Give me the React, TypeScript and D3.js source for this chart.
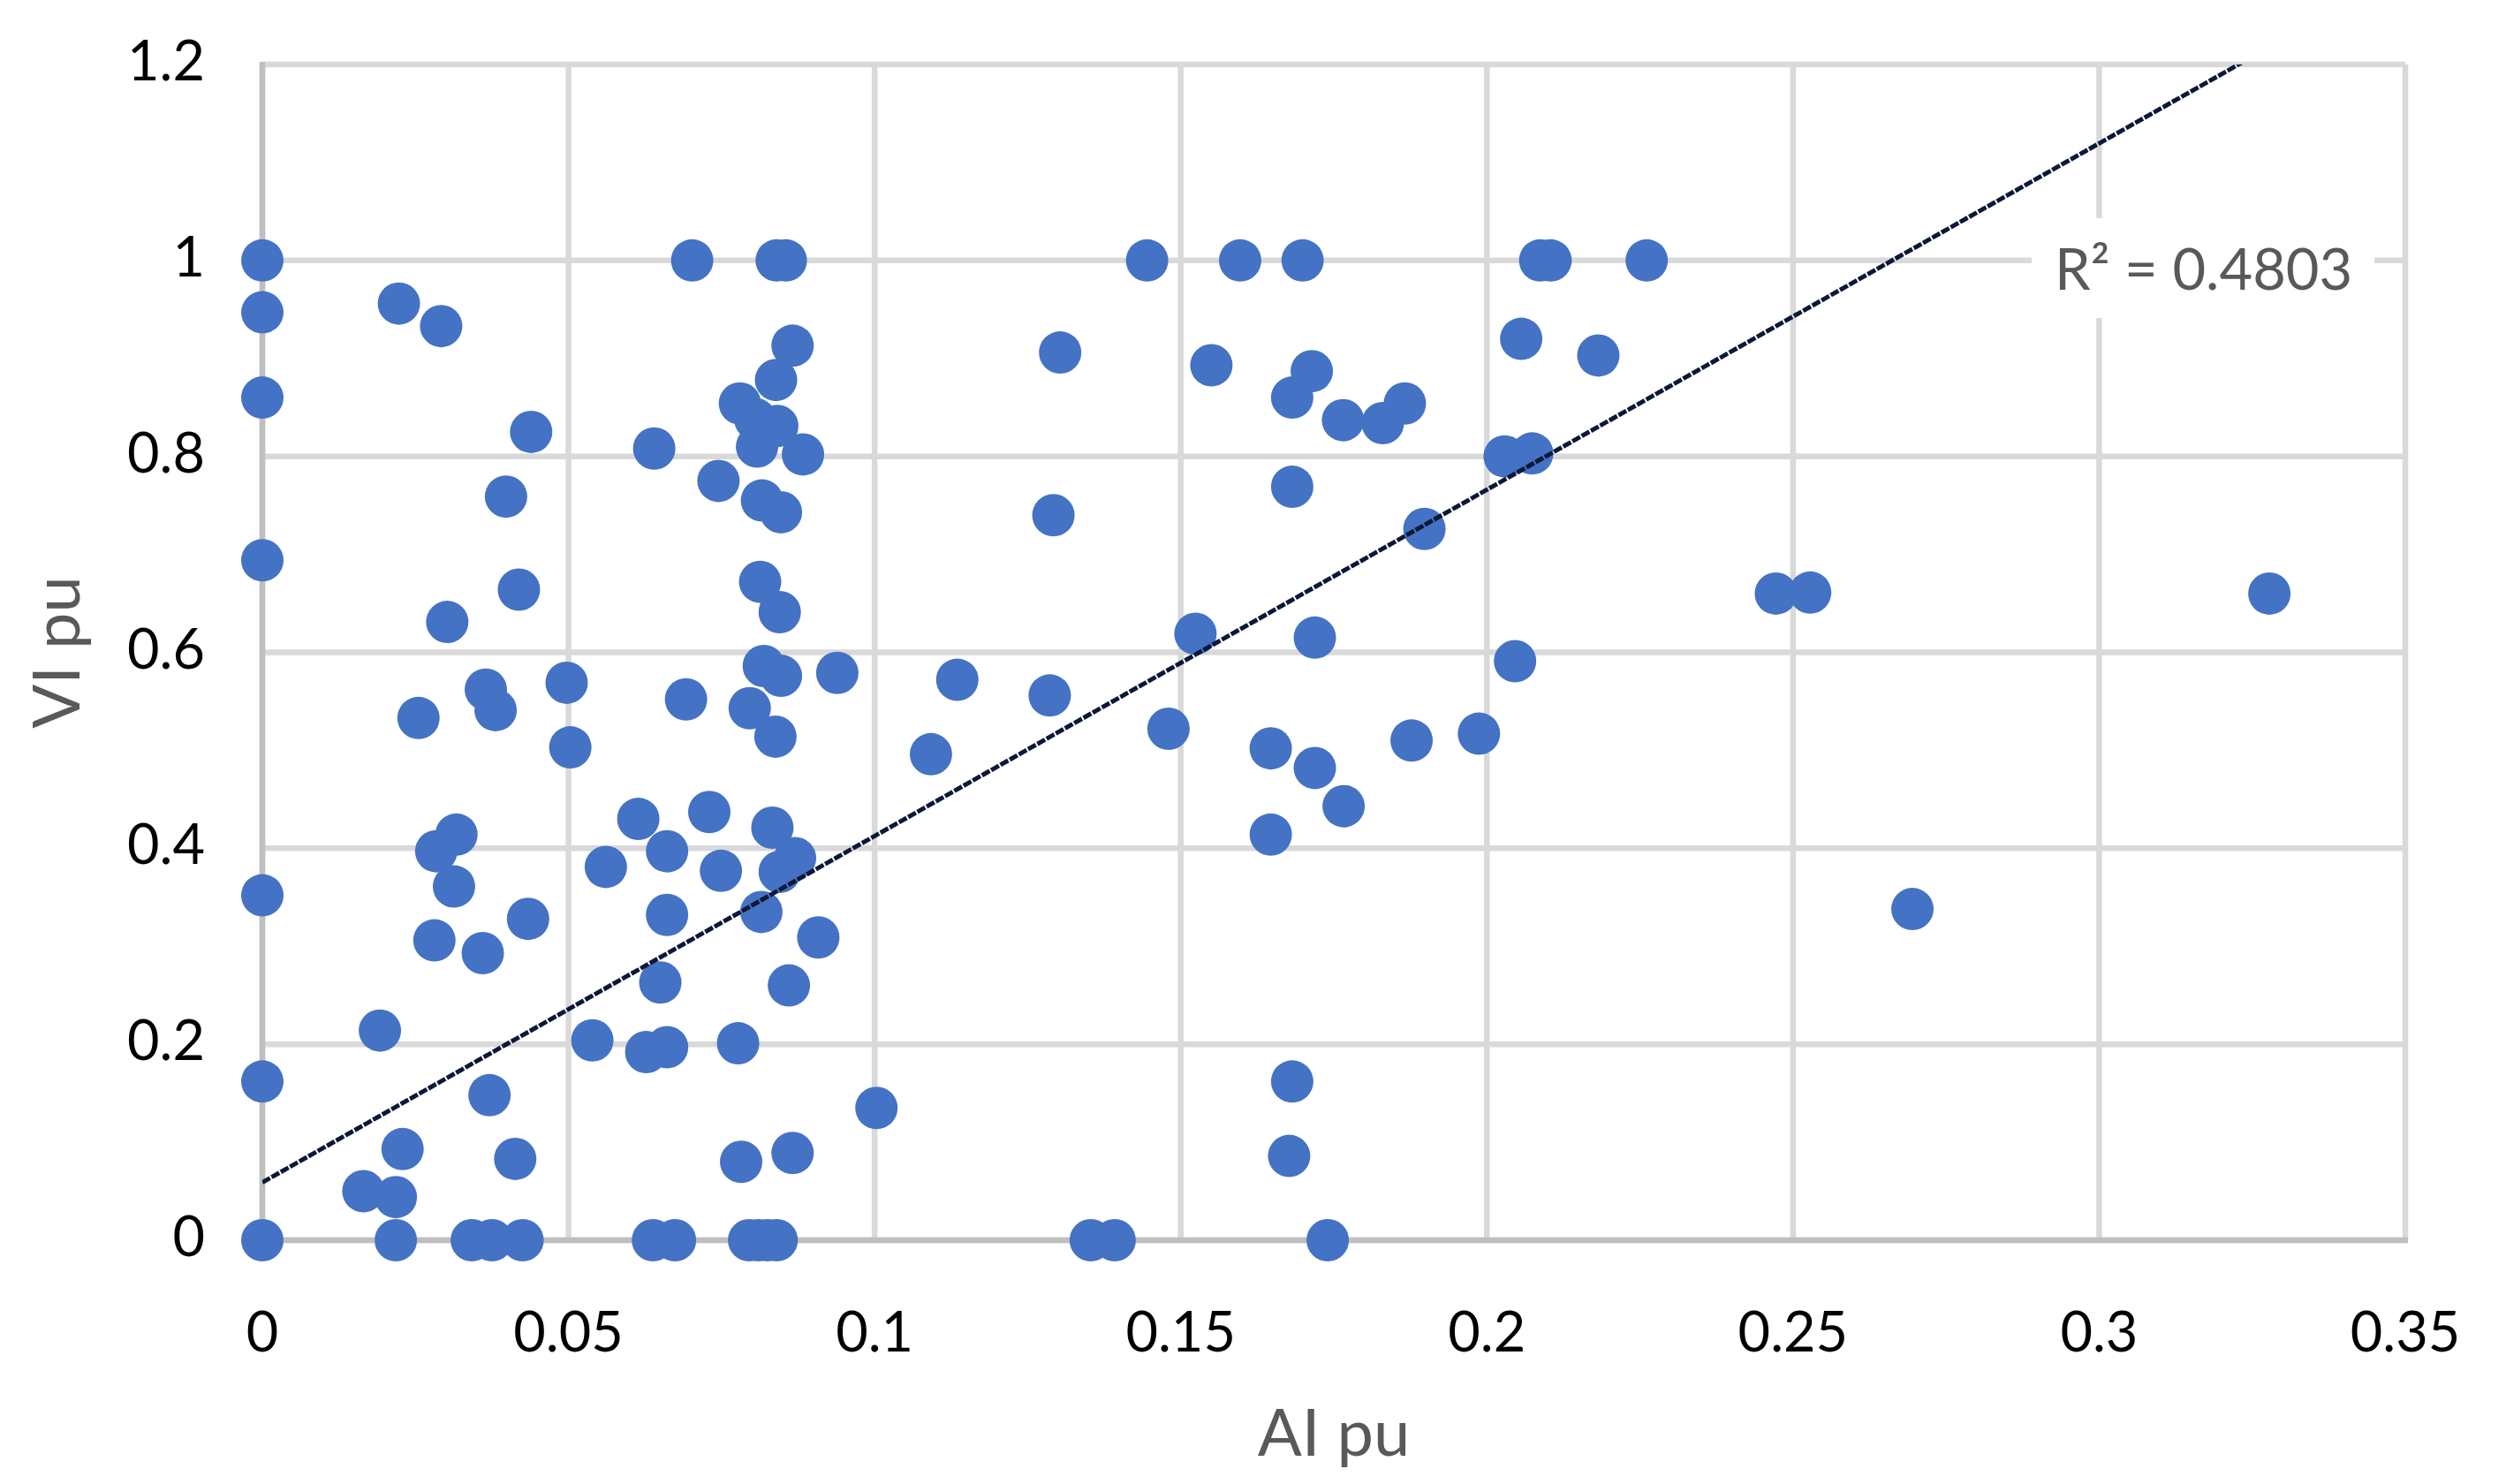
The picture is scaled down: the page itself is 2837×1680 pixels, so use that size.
import React from 'react';
import * as d3 from 'd3';

// AI pu (x) and VI pu (y)
const aiPu = [
  0, 0.0702, 0.084, 0.0855, 0.1445, 0.1597, 0.1699, 0.2087, 0.2104, 0.2261,
  0, 0.0223, 0.0292, 0, 0.0439, 0.064, 0.0398, 0.0745, 0.078, 0.0839,
  0.0866, 0.0805, 0.0841, 0.0808, 0.0883, 0.0816, 0.0847, 0, 0.0419, 0.0302,
  0.0813, 0.0845, 0.0255, 0.0365, 0.0381, 0.0497, 0.0503, 0.0692, 0.0796, 0.0819,
  0.0847, 0.0939, 0.0838, 0.1135, 0.1286, 0.1092, 0.1303, 0.155, 0.1292, 0.1524,
  0.148, 0.2056, 0.2182, 0.1714, 0.1682, 0.1765, 0.183, 0.1866, 0.2029, 0.2074,
  0.1682, 0.1898, 0.2472, 0.2528, 0.2695, 0.3278, 0.1719, 0.2046, 0.1647, 0.1719,
  0.1877, 0.1987, 0.1766, 0.1647, 0.1682, 0.1677, 0.174, 0, 0.0317, 0.0284,
  0.0313, 0.0434, 0.0281, 0.036, 0.0614, 0.073, 0.0561, 0.0661, 0.0749, 0.0661,
  0.065, 0.0192, 0, 0.0371, 0.0539, 0.0627, 0.0661, 0.0777, 0.0229, 0.0413,
  0.0165, 0.0218, 0.0782, 0.0833, 0.0845, 0.087, 0.0815, 0.0908, 0.086, 0.1003,
  0.0866, 0, 0.0218, 0.0342, 0.0375, 0.0425, 0.0638, 0.0674, 0.0795, 0.081,
  0.0825, 0.084, 0.1353, 0.1392,
];
const viPu = [
  1, 1, 1, 1, 1, 1, 1, 1, 1, 1,
  0.947, 0.956, 0.933, 0.86, 0.825, 0.808, 0.759, 0.775, 0.854, 0.878,
  0.913, 0.838, 0.831, 0.81, 0.802, 0.755, 0.743, 0.694, 0.664, 0.631,
  0.672, 0.641, 0.533, 0.562, 0.541, 0.569, 0.503, 0.552, 0.543, 0.586,
  0.576, 0.579, 0.514, 0.572, 0.556, 0.496, 0.906, 0.893, 0.74, 0.619,
  0.522, 0.92, 0.903, 0.887, 0.86, 0.837, 0.834, 0.854, 0.8, 0.803,
  0.769, 0.726, 0.66, 0.661, 0.338, 0.66, 0.615, 0.591, 0.502, 0.482,
  0.51, 0.517, 0.443, 0.414, 0.162, 0.086, 0, 0.352, 0.414, 0.397,
  0.361, 0.328, 0.306, 0.293, 0.43, 0.437, 0.381, 0.397, 0.377, 0.332,
  0.263, 0.214, 0.162, 0.148, 0.204, 0.192, 0.197, 0.201, 0.093, 0.083,
  0.05, 0.044, 0.08, 0.421, 0.376, 0.39, 0.335, 0.309, 0.26, 0.135,
  0.089, 0, 0, 0, 0, 0, 0, 0, 0, 0,
  0, 0, 0, 0,
];

const xTicks = [0, 0.05, 0.1, 0.15, 0.2, 0.25, 0.3, 0.35];
const xTickLabels = ['0', '0.05', '0.1', '0.15', '0.2', '0.25', '0.3', '0.35'];
const yTicks = [0, 0.2, 0.4, 0.6, 0.8, 1, 1.2];
const yTickLabels = ['0', '0.2', '0.4', '0.6', '0.8', '1', '1.2'];

// linear trendline
const trendSlope = 3.535;
const trendIntercept = 0.059;
const rSquaredLabel = 'R\u00B2 = 0.4803';

const xTitle = 'AI pu';
const yTitle = 'VI pu';

const W = 2837;
const H = 1680;
const margin = { top: 73, right: 114, bottom: 276, left: 297 };
const FONT = 'Lato, "Open Sans", sans-serif';

export default function App() {
  const x = d3
    .scaleLinear()
    .domain([0, 0.35])
    .range([margin.left, W - margin.right]);
  const y = d3
    .scaleLinear()
    .domain([0, 1.2])
    .range([H - margin.bottom, margin.top]);

  const points = aiPu.map((d, i) => ({ x: d, y: viPu[i] }));

  const xMax = d3.max(aiPu) as number;
  const trendData = [0, xMax].map((v) => ({ x: v, y: trendIntercept + trendSlope * v }));
  const trendLine = d3
    .line<{ x: number; y: number }>()
    .x((d) => x(d.x))
    .y((d) => y(d.y));

  const x0 = x(0);
  const x1 = x(0.35);
  const y0 = y(0);
  const y1 = y(1.2);

  return (
    <svg
      width={W}
      height={H}
      style={{ position: 'absolute', left: 0, top: 0, background: '#fff' }}
      fontFamily={FONT}
    >
      <defs>
        <clipPath id="plot-clip">
          <rect x={x0} y={y1} width={x1 - x0} height={y0 - y1} />
        </clipPath>
      </defs>

      {/* gridlines */}
      {yTicks.map((t) => (
        <line key={'gy' + t} x1={x0} x2={x1} y1={y(t)} y2={y(t)} stroke="#d9d9d9" strokeWidth={6.5} />
      ))}
      {xTicks.map((t) => (
        <line key={'gx' + t} x1={x(t)} x2={x(t)} y1={y1} y2={y0} stroke="#d9d9d9" strokeWidth={6.5} />
      ))}

      {/* axis lines */}
      <line x1={x0} x2={x0} y1={y1 - 3} y2={y0} stroke="#bfbfbf" strokeWidth={6.5} />
      <line x1={x0} x2={x1 + 3} y1={y0} y2={y0} stroke="#bfbfbf" strokeWidth={6.5} />

      {/* points */}
      {points.map((p, i) => (
        <circle key={i} cx={x(p.x)} cy={y(p.y)} r={24} fill="#4472c4" />
      ))}

      {/* trendline */}
      <path
        d={trendLine(trendData) || ''}
        fill="none"
        stroke="#0c1838"
        strokeWidth={5}
        strokeDasharray="10 2"
        clipPath="url(#plot-clip)"
      />

      {/* R squared label */}
      <rect x={2300} y={247} width={388} height={113} fill="#fff" />
      <text x={2326} y={328} fontSize={65} fill="#595959">
        {rSquaredLabel}
      </text>

      {/* tick labels */}
      {yTicks.map((t, i) => (
        <text key={'ly' + t} x={232} y={y(t) + 18} fontSize={63} textAnchor="end" fill="#000">
          {yTickLabels[i]}
        </text>
      ))}
      {xTicks.map((t, i) => (
        <text key={'lx' + t} x={x(t)} y={1530} fontSize={63} textAnchor="middle" fill="#000">
          {xTickLabels[i]}
        </text>
      ))}

      {/* axis titles */}
      <text x={(x0 + x1) / 2} y={1648} fontSize={74} textAnchor="middle" fill="#595959">
        {xTitle}
      </text>
      <text
        transform={`translate(90, ${(y0 + y1) / 2}) rotate(-90)`}
        fontSize={74}
        textAnchor="middle"
        fill="#595959"
      >
        {yTitle}
      </text>
    </svg>
  );
}
